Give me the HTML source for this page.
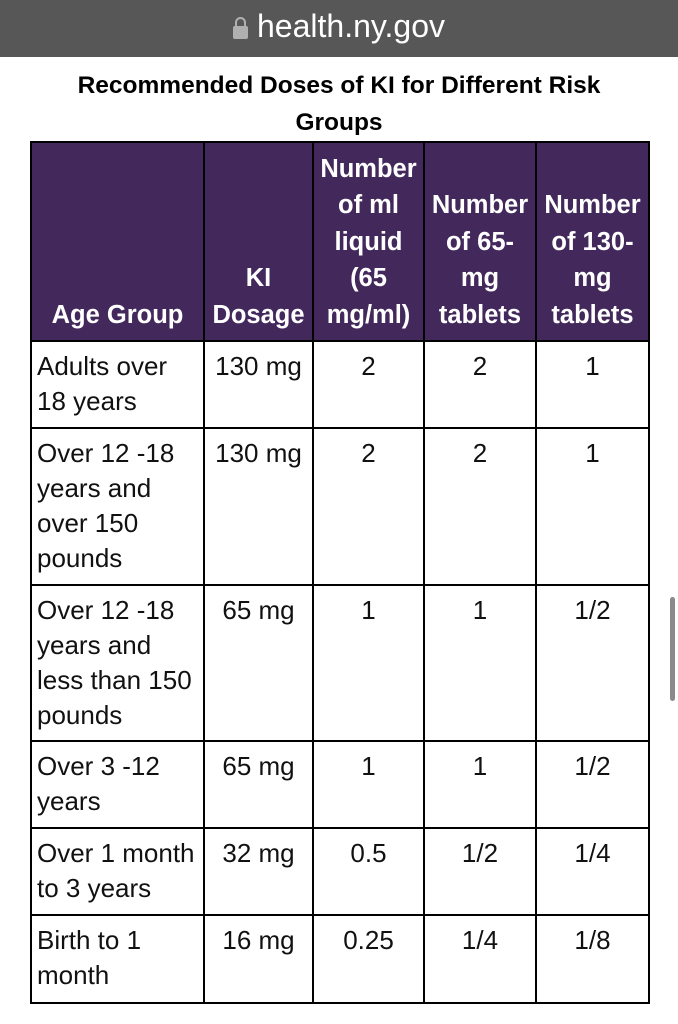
<!DOCTYPE html>
<html><head><meta charset="utf-8">
<style>
body{margin:0;width:678px;height:1024px;background:#fff;position:relative;overflow:hidden;font-family:"Liberation Sans",sans-serif;}
.bar{position:absolute;left:0;top:0;width:678px;height:57px;background:#575757;color:#fff;font-size:32px;text-align:center;line-height:52px;}
.lock{display:inline-block;width:15px;height:13px;background:#b0b0b0;border-radius:2px;position:relative;margin-right:9px;vertical-align:-2px}
.lock:before{content:"";position:absolute;left:2px;top:-9px;width:7px;height:9px;border:2px solid #b0b0b0;border-bottom:none;border-radius:6px 6px 0 0}
.title{position:absolute;left:0;top:67px;width:678px;text-align:center;font-weight:bold;font-size:24.5px;line-height:37px;color:#000}
.cell{position:absolute;box-sizing:border-box;border:2px solid #000;font-size:26px;line-height:35px;color:#111}
.h{background:#43285c;color:#fff;font-weight:bold;text-align:center;display:flex;align-items:flex-end;justify-content:center;line-height:36.5px;padding-bottom:7px;border-color:#000;font-size:25.5px}
.b{padding:7px 0 0 5px}
.c{text-align:center;padding:7px 0 0 0}
.scroll{position:absolute;left:670px;top:597px;width:5px;height:104px;border-radius:3px;background:#8a8a8a}
</style></head><body>
<div class="bar"><span class="lock"></span>health.ny.gov</div>
<div class="title">Recommended Doses of KI for Different Risk<br>Groups</div>
<div id="tbl"></div>
<div class="scroll"></div>
<script>
const xs=[31,204,313,424,536,649];
const ys=[142,341,428,585,741,828,915,1003];
const headers=["Age Group","KI<br>Dosage","Number<br>of ml<br>liquid<br>(65<br>mg/ml)","Number<br>of 65-<br>mg<br>tablets","Number<br>of 130-<br>mg<br>tablets"];
const ageGroups=["Adults over<br>18 years","Over 12 -18<br>years and<br>over 150<br>pounds","Over 12 -18<br>years and<br>less than 150<br>pounds","Over 3 -12<br>years","Over 1 month<br>to 3 years","Birth to 1<br>month"];
const dosage=["130 mg","130 mg","65 mg","65 mg","32 mg","16 mg"];
const liquid=["2","2","1","1","0.5","0.25"];
const tab65=["2","2","1","1","1/2","1/4"];
const tab130=["1","1","1/2","1/2","1/4","1/8"];
const tbl=document.getElementById('tbl');
function mk(x0,x1,y0,y1,cls,html,name){
  const d=document.createElement('div');
  d.className='cell '+cls;
  d.style.left=x0+'px';d.style.top=y0+'px';
  d.style.width=(x1-x0+2)+'px';d.style.height=(y1-y0+2)+'px';
  d.innerHTML=html;
  
  
  tbl.appendChild(d);
}
headers.forEach((h,i)=>mk(xs[i]-1,xs[i+1]-1,ys[0]-1,ys[1]-1,'h','<span>'+h+'</span>','header-cell'));
const cols=[ageGroups,dosage,liquid,tab65,tab130];
for(let r=0;r<ageGroups.length;r++){
  cols.forEach((col,i)=>mk(xs[i]-1,xs[i+1]-1,ys[r+1]-1,ys[r+2]-1,i==0?'b':'c',col[r],i==0?'age-group-cell':'dose-cell'));
}
</script>
</body></html>
